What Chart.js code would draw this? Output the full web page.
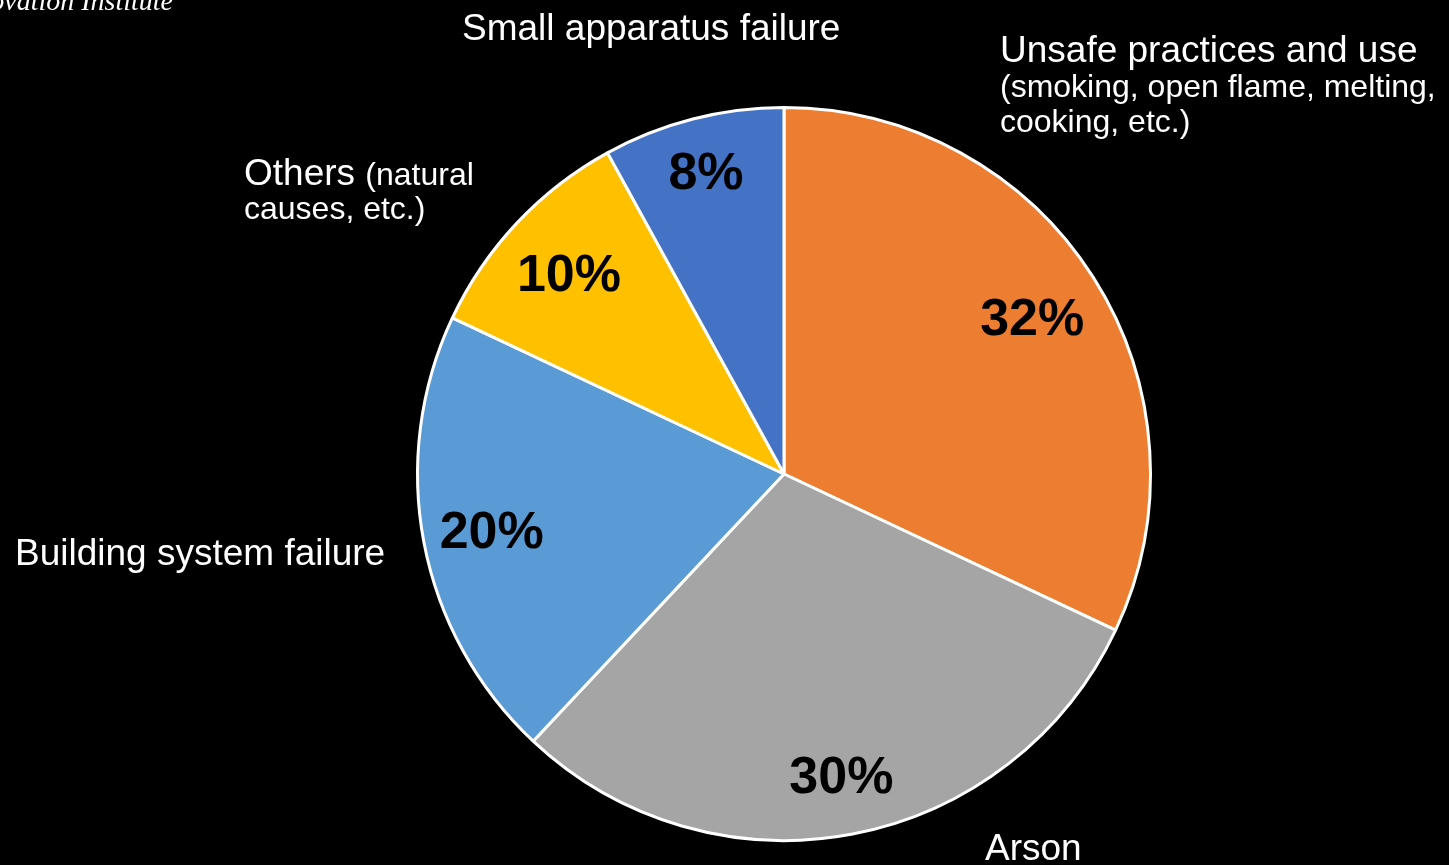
<!DOCTYPE html>
<html>
<head>
<meta charset="utf-8">
<script src="https://cdn.jsdelivr.net/npm/chart.js@4/dist/chart.umd.min.js"></script>
<style>
  html, body { margin: 0; padding: 0; background: #000; }
</style>
</head>
<body>
<canvas id="myChart" width="1449" height="865"></canvas>
<script>
const causes = [
  "Unsafe practices and use",
  "Arson",
  "Building system failure",
  "Others",
  "Small apparatus failure",
];
const shares = [32, 30, 20, 10, 8];
const colors = ["#ED7D31", "#A5A5A5", "#5B9BD5", "#FFC000", "#4472C4"];
// how far out each % label sits, as a share of the radius
const labelReach = [0.802, 0.835, 0.812, 0.805, 0.856];

// outside captions, one entry per line: [parts, x, y]
const captions = [
  [[["Small apparatus failure", 37]], 462, 40],
  [[["Unsafe practices and use", 37]], 1000, 62],
  [[["(smoking, open flame, melting,", 32]], 1000, 97],
  [[["cooking, etc.)", 32]], 1000, 132],
  [[["Others ", 37], ["(natural", 32]], 244, 185],
  [[["causes, etc.)", 32]], 244, 219],
  [[["Building system failure", 37]], 15, 565],
  [[["Arson", 37]], 985, 860],
];

const labelsPlugin = {
  id: "sliceLabels",
  afterDatasetsDraw(chart) {
    const ctx = chart.ctx;
    const arcs = chart.getDatasetMeta(0).data;
    ctx.save();
    ctx.fillStyle = "#000";
    ctx.font = "bold 52px 'Liberation Sans', Arial, sans-serif";
    ctx.textAlign = "center";
    ctx.textBaseline = "alphabetic";
    arcs.forEach((arc, i) => {
      const mid = (arc.startAngle + arc.endAngle) / 2;
      const r = arc.outerRadius * labelReach[i];
      // baseline pushed down by half the cap height so digits centre on the point
      ctx.fillText(shares[i] + "%", arc.x + Math.cos(mid) * r, arc.y + Math.sin(mid) * r + 18.6);
    });

    ctx.fillStyle = "#fff";
    ctx.textAlign = "left";
    captions.forEach(([parts, x, y]) => {
      let cx = x;
      parts.forEach(([text, size]) => {
        ctx.font = size + "px 'Liberation Sans', Arial, sans-serif";
        ctx.fillText(text, cx, y);
        cx += ctx.measureText(text).width;
      });
    });

    ctx.font = "italic 28px 'Liberation Serif', 'Times New Roman', serif";
    ctx.textAlign = "right";
    ctx.fillText("Innovation Institute", 173, 10);
    ctx.restore();
  },
};

new Chart(document.getElementById("myChart"), {
  type: "pie",
  data: {
    labels: causes,
    datasets: [
      {
        data: shares,
        backgroundColor: colors,
        borderColor: "#fff",
        borderWidth: 3,
      },
    ],
  },
  options: {
    responsive: false,
    animation: false,
    events: [],
    layout: { padding: { left: 416, right: 297, top: 106, bottom: 23 } },
    plugins: {
      legend: { display: false },
      tooltip: { enabled: false },
    },
  },
  plugins: [labelsPlugin],
});
</script>
</body>
</html>
